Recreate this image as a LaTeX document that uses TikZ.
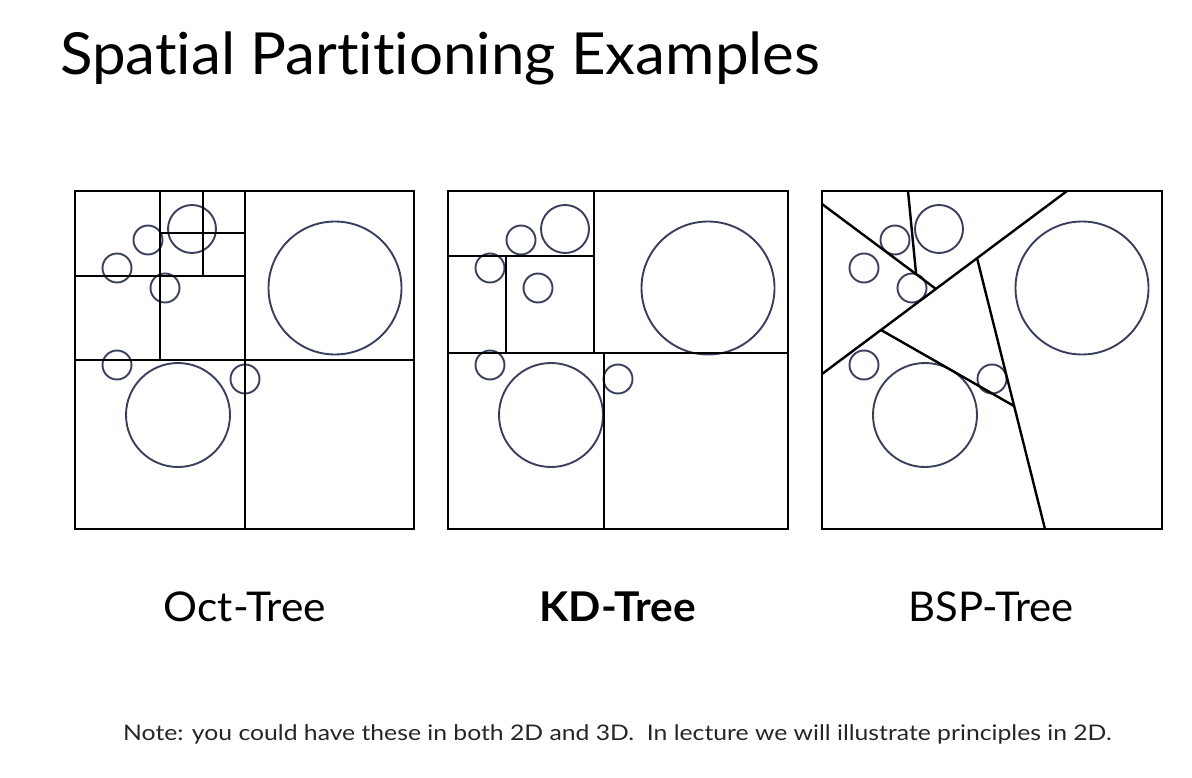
\documentclass[tikz,border=0pt]{standalone}
\usepackage{fontspec}
\setmainfont{Lato}[Ligatures=CommonOff]
\definecolor{ballc}{RGB}{58,64,92}
\begin{document}
\begin{tikzpicture}[x=1pt,y=-1pt,
  part/.style={line width=2.6pt, black, line cap=rect},
  cut/.style={line width=2.4pt, black},
  border/.style={line width=2.8pt, black},
  ball/.style={line width=1.9pt, draw=ballc},
  title/.style={anchor=base west, inner sep=0pt, font=\fontsize{58}{60}\selectfont},
  label/.style={anchor=base, inner sep=0pt, font=\fontsize{41}{44}\selectfont},
  note/.style={anchor=base west, inner sep=0pt, font=\fontsize{21.5}{24}\selectfont, text=black!85}]
\fill[white] (0,0) rectangle (1192,778);
\useasboundingbox (0,0) rectangle (1192,778);

\node[title] (ttl) at (60,75) {\scalebox{1.035}[1]{Spatial Partitioning Examples}};

% circles, same layout in each panel
\foreach \ox in {75,448,822}{
  \begin{scope}[shift={(\ox,0)}]
    \draw[ball] (260,288) circle (66.5);
    \draw[ball] (103,415) circle (52);
    \draw[ball] (117,229) circle (24);
    \draw[ball] (73,240) circle (14.5);
    \draw[ball] (42,268) circle (14.5);
    \draw[ball] (90,288) circle (14.5);
    \draw[ball] (42,365) circle (14.5);
    \draw[ball] (170,379) circle (14.5);
  \end{scope}
}

% Oct-Tree
\draw[part] (245,191) -- (245,529);
\draw[part] (75,360) -- (414,360);
\draw[part] (160,191) -- (160,360);
\draw[part] (75,276) -- (245,276);
\draw[part] (203,191) -- (203,276);
\draw[part] (160,233) -- (245,233);
\draw[border] (75,191) rectangle (414,529);

% KD-Tree
\draw[part] (448,353) -- (788,353);
\draw[part] (594,191) -- (594,353);
\draw[part] (448,256) -- (594,256);
\draw[part] (506,256) -- (506,353);
\draw[part] (604,353) -- (604,529);
\draw[border] (448,191) rectangle (788,529);

% BSP-Tree
\draw[cut] (822,374) -- (1067,191);
\draw[cut] (822,204) -- (936,289);
\draw[cut] (908,191) -- (916,273);
\draw[cut] (977,258) -- (1045,529);
\draw[cut] (881,330) -- (1014,406);
\draw[border] (822,191) rectangle (1162,529);

\node[label] (oct) at (245,621) {\scalebox{1.035}[1]{Oct-Tree}};
\node[label, font=\fontsize{41}{44}\selectfont\bfseries] (kd) at (618,621) {\scalebox{1.035}[1]{KD-Tree}};
\node[label] (bsp) at (991,621) {\scalebox{1.02}[1]{BSP-Tree}};

\node[note] (nt) at (123,740) {\scalebox{1.15}[1]{Note: you could have these in both 2D and 3D.\ \ In lecture we will illustrate principles in 2D.}};
\end{tikzpicture}
\end{document}
